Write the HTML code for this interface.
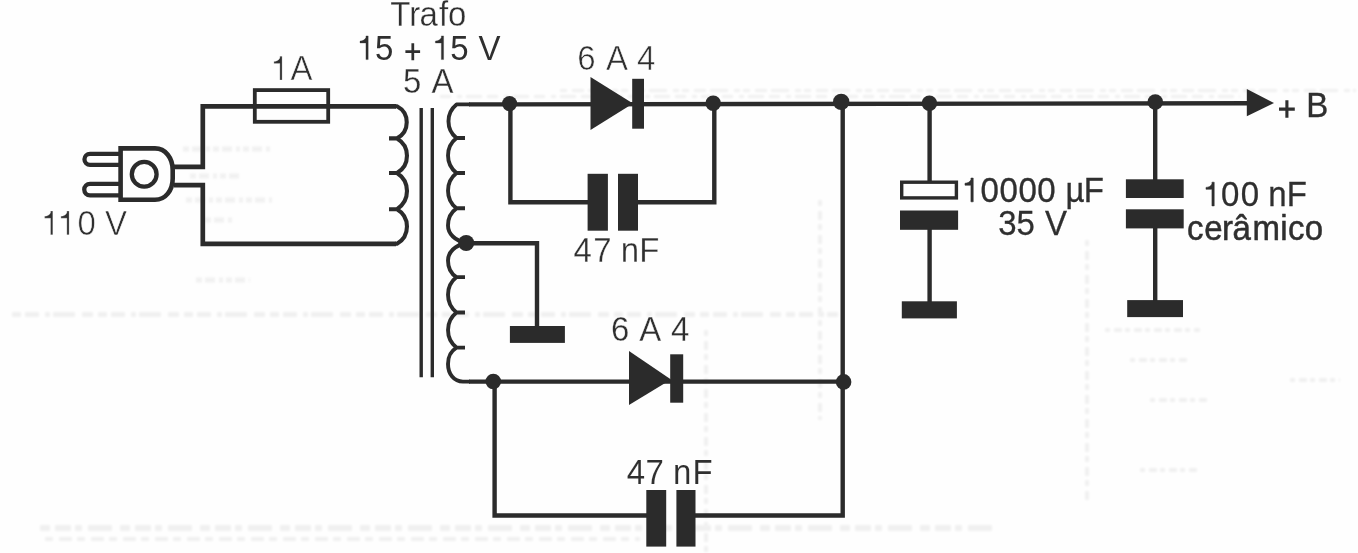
<!DOCTYPE html>
<html><head><meta charset="utf-8">
<style>
html,body{margin:0;padding:0;background:#fefefe;}
body{width:1358px;height:553px;overflow:hidden;}
svg{display:block;}
text{font-family:"Liberation Sans",sans-serif;font-size:33px;fill:#2e2e2e;stroke:#fefefe;stroke-width:0.3px;}
.g1{fill:#2e2e2e;stroke:none;}
.gp{fill:none;stroke:#2e2e2e;stroke-width:2.6;}
.w{fill:none;stroke:#2b2b2b;stroke-width:4.7;stroke-linejoin:miter;stroke-linecap:butt;}
.w2{fill:none;stroke:#2b2b2b;stroke-width:4.4;stroke-linejoin:miter;stroke-linecap:butt;}
.t{fill:none;stroke:#2b2b2b;stroke-width:3;}
.f{fill:#2b2b2b;stroke:none;}
</style></head><body>
<svg width="1358" height="553" viewBox="0 0 1358 553">
<rect width="1358" height="553" fill="#fefefe"/>

<!-- faint scan bleed-through -->
<defs><filter id="bl" x="-5%" y="-5%" width="110%" height="110%"><feGaussianBlur stdDeviation="0.9"/></filter></defs>
<g fill="none" stroke="#9a9a9a" stroke-linecap="butt" opacity="0.13" filter="url(#bl)">
<path stroke-width="5" stroke-dasharray="9 4 14 6 5 3 22 7 11 5" d="M12,314.5 H838"/>
<path stroke-width="3" stroke-dasharray="7 5 12 4 18 6 6 3" d="M560,90.5 H1356"/>
<path stroke-width="3" stroke-dasharray="11 6 5 4 16 5" d="M440,96.5 H1240"/>
<path stroke-width="6" stroke-dasharray="10 5 16 4 7 6 24 8" d="M40,528 H1000"/>
<path stroke-width="4" stroke-dasharray="8 6 13 5" d="M45,539 H640"/>
<path stroke-width="4" stroke-dasharray="6 5 9 4" d="M706,330 V553 M820,200 V420 M1087,240 V500"/>
<path stroke-width="5" stroke-dasharray="6 3 10 4 4 3" d="M183,149 H270 M190,176 H240 M186,200 H272 M205,220 H232 M196,280 H250"/>
<path stroke-width="4" stroke-dasharray="5 4 8 3" d="M1105,330 H1200 M1130,360 H1190 M1150,400 H1210 M1140,470 H1200 M1290,380 H1340"/>
</g>
<!-- plug -->
<g style="stroke-width:4.4">
<path class="w" style="stroke-width:4.6" d="M120.6,148.4 H155 C165.5,148.4 172.7,158 172.7,170 V178.5 C172.7,190.5 165.5,199.8 155,199.8 H120.6 Z"/>
<circle class="w" style="stroke-width:4.3" cx="144.2" cy="174.3" r="12.4"/>
<path class="w" style="stroke-width:4.3" d="M120,153.8 H90 A5.55,5.55 0 0 0 90,164.9 H120"/>
<path class="w" style="stroke-width:4.3" d="M120,183.8 H90 A5.75,5.75 0 0 0 90,195.3 H120"/>
</g>
<!-- primary loop -->
<path class="w" d="M174,166.9 H202.8 V106.3 H396 M396,243.8 H202.8 V185.2 H174"/>
<path class="w" style="stroke-linejoin:round;stroke-width:4.1" d="M395,106.3 H397 A18.1,18.1 0 0 1 397,138.4 A20.0,20.0 0 0 1 397,173 A21.4,21.4 0 0 1 397,209.2 A20.0,20.0 0 0 1 397,243.8 H395 M389,138.4 H398 M389,173 H398 M389,209.2 H398"/>
<!-- fuse -->
<rect class="t" style="stroke-width:3.8" x="254.8" y="90.1" width="73.4" height="31.7"/>

<!-- core -->
<path class="t" style="stroke-width:3.4" d="M421.2,108 V377.3 M432.3,108 V377.3"/>

<!-- secondary -->
<path class="w2" d="M1250,103.3 L469,104.4 M469,381.6 H843"/>
<path class="w2" style="stroke-linejoin:round;stroke-width:3.9" d="M470,104.4 H456.5 A21.6,21.6 0 0 0 456.5,138 A22.3,22.3 0 0 0 456.5,173 A22.6,22.6 0 0 0 456.5,208.3 C450.5,212.5 448,218 448,225.5 C448,234 455,240.5 466,243 C455,245.5 448,252 448,260.5 C448,268 450.5,273.5 456.5,277.1 A22.7,22.7 0 0 0 456.5,312.5 A22.4,22.4 0 0 0 456.5,347.6 C449.5,352 448,357 448,364 C448,374 454,381.6 463,381.6 H470 M465,138 H455.5 M465,173 H455.5 M465,208.3 H455.5 M465,277.1 H455.5 M465,312.5 H455.5 M465,347.6 H455.5"/>

<!-- center tap -->
<path class="w2" d="M466,243.2 H537 V328"/>
<rect class="f" x="509.9" y="326" width="55" height="16.9"/>

<!-- diode 1 + cap 1 -->
<path class="f" d="M590.5,77 L633,103.6 L590.5,129.9 Z"/>
<rect class="f" x="632.2" y="78.8" width="11.8" height="49.9"/>
<path class="w2" d="M510.4,103.6 V202.3 H590 M636,202.3 H714.3 V103.6"/>
<rect class="f" x="587.6" y="173.8" width="20.3" height="56.9"/>
<rect class="f" x="618" y="173.8" width="20" height="56.9"/>

<!-- bus -->
<path class="w2" d="M842.7,103.6 V515.5 H694 M648,515.5 H494.6 V381.4"/>
<!-- diode 2 -->
<path class="f" d="M629,351.1 L671,379.6 L629,404.9 Z"/>
<rect class="f" x="670.2" y="354.3" width="13" height="48.4"/>
<!-- cap 2 -->
<rect class="f" x="646.3" y="490" width="19.9" height="56.6"/>
<rect class="f" x="676.4" y="490" width="19.1" height="56.6"/>

<!-- electrolytic -->
<path class="w2" d="M929.6,103.6 V181 M929.6,229 V302"/>
<rect class="t" style="stroke-width:3.4" x="901.7" y="182.2" width="54.7" height="15.7"/>
<rect class="f" x="900" y="210.5" width="58.1" height="19.3"/>
<rect class="f" x="901.8" y="301.3" width="55.1" height="17.1"/>
<!-- ceramic -->
<path class="w2" d="M1155.2,103.6 V180 M1155.2,228 V301"/>
<rect class="f" x="1125.9" y="179.3" width="57.8" height="18.7"/>
<rect class="f" x="1125.9" y="209.3" width="57.8" height="19.1"/>
<rect class="f" x="1127.2" y="300.1" width="55.8" height="17"/>

<!-- arrow -->
<path class="f" d="M1246.8,89 L1274,103 L1246.8,116.2 Z"/>

<!-- dots -->
<circle class="f" cx="509.6" cy="103.6" r="7.6"/>
<circle class="f" cx="713.2" cy="103.3" r="7.8"/>
<circle class="f" cx="841.2" cy="101.9" r="8.2"/>
<circle class="f" cx="929.4" cy="103.2" r="7.8"/>
<circle class="f" cx="1155.3" cy="102" r="7.8"/>
<circle class="f" cx="466.2" cy="243" r="8"/>
<circle class="f" cx="493.3" cy="381.5" r="7.8"/>
<circle class="f" cx="843.6" cy="381.9" r="7.8"/>

<!-- text -->
<g opacity="0.995">
<text id="t1" style="stroke:#fefefe;stroke-width:0.3px" transform="matrix(1 0 0 1.045 0 25.8)" x="390.3 409.2 419.6 439.0 448.0" y="0">Trafo</text>
<path class="g1" style="stroke:#2e2e2e;stroke-width:0.30px" transform="translate(360.0,59.6)" d="M5.95,0 V-16.6 H0 V-18.5 C2.8,-18.7 4.9,-19.7 5.95,-22 V-23.7 H8.2 V0 Z"/>
<path class="gp" style="stroke-width:2.75" d="M405.4,51.7 H420.1 M412.8,43.2 V60.2"/>
<path class="g1" style="stroke:#2e2e2e;stroke-width:0.30px" transform="translate(435.4,59.6)" d="M5.95,0 V-16.6 H0 V-18.5 C2.8,-18.7 4.9,-19.7 5.95,-22 V-23.7 H8.2 V0 Z"/>
<text id="t2" style="stroke:none" transform="matrix(1 0 0 1.045 0 59.6)" x="375.0 450.3 478.5" y="0">55V</text>
<text id="t3" style="stroke:#fefefe;stroke-width:0.3px" transform="matrix(1 0 0 1.045 0 92.6)" x="403.1 431.5" y="0">5A</text>
<path class="g1" style="stroke:#fefefe;stroke-width:0.25px" transform="translate(273.9,80.0)" d="M5.95,0 V-16.6 H0 V-18.5 C2.8,-18.7 4.9,-19.7 5.95,-22 V-23.7 H8.2 V0 Z"/>
<text id="t4" style="stroke:#fefefe;stroke-width:0.55px" transform="matrix(1 0 0 1.045 0 80.0)" x="290.6" y="0">A</text>
<path class="g1" style="stroke:#fefefe;stroke-width:0.25px" transform="translate(44.6,234.8)" d="M5.95,0 V-16.6 H0 V-18.5 C2.8,-18.7 4.9,-19.7 5.95,-22 V-23.7 H8.2 V0 Z"/>
<path class="g1" style="stroke:#fefefe;stroke-width:0.25px" transform="translate(60.9,234.8)" d="M5.95,0 V-16.6 H0 V-18.5 C2.8,-18.7 4.9,-19.7 5.95,-22 V-23.7 H8.2 V0 Z"/>
<text id="t5" style="stroke:#fefefe;stroke-width:0.55px" transform="matrix(1 0 0 1.045 0 234.8)" x="77.4 105.1" y="0">0V</text>
<text id="t6" style="stroke:#fefefe;stroke-width:0.55px" transform="matrix(1 0 0 1.045 0 69.8)" x="577.2 605.9 636.9" y="0">6A4</text>
<text id="t7" style="stroke:#fefefe;stroke-width:0.3px" transform="matrix(1 0 0 1.045 0 262.0)" x="573.5 593.2 620.7 639.2" y="0">47nF</text>
<text id="t8" style="stroke:#fefefe;stroke-width:0.3px" transform="matrix(1 0 0 1.045 0 340.8)" x="610.9 639.3 670.9" y="0">6A4</text>
<text id="t9" style="stroke:#fefefe;stroke-width:0.1px" transform="matrix(1 0 0 1.045 0 483.7)" x="626.7 645.4 672.9 692.6" y="0">47nF</text>
<path class="g1" style="stroke:#2e2e2e;stroke-width:0.60px" transform="translate(965.0,201.8)" d="M5.95,0 V-16.6 H0 V-18.5 C2.8,-18.7 4.9,-19.7 5.95,-22 V-23.7 H8.2 V0 Z"/>
<text id="t10" style="stroke:#2e2e2e;stroke-width:0.3px" transform="matrix(1 0 0 1.045 0 201.8)" x="980.6 999.6 1018.4 1037.3 1065.6 1083.7" y="0">0000µF</text>
<text id="t11" style="stroke:#2e2e2e;stroke-width:0.25px" transform="matrix(1 0 0 1.045 0 235.0)" x="998.3 1016.4 1045.0" y="0">35V</text>
<path class="g1" style="stroke:#2e2e2e;stroke-width:0.55px" transform="translate(1206.0,205.9)" d="M5.95,0 V-16.6 H0 V-18.5 C2.8,-18.7 4.9,-19.7 5.95,-22 V-23.7 H8.2 V0 Z"/>
<text id="t12" style="stroke:#2e2e2e;stroke-width:0.25px" transform="matrix(1 0 0 1.045 0 205.9)" x="1221.1 1240.7 1268.2 1286.7" y="0">00nF</text>
<text id="t13" style="stroke:#2e2e2e;stroke-width:0.5px" transform="matrix(1 0 0 1.045 0 240.0)" x="1187.1 1204.3 1222.1 1232.5 1252.4 1280.3 1288.0 1304.7" y="0">cerâmico</text>
<path class="gp" style="stroke-width:3.10" d="M1279.0,109.1 H1294.8 M1286.9,100.3 V117.8"/>
<text id="t14" style="stroke:#2e2e2e;stroke-width:0.35px" transform="matrix(1 0 0 1.045 0 116.6)" x="1306.2" y="0">B</text>
</g>
</svg>
</body></html>
